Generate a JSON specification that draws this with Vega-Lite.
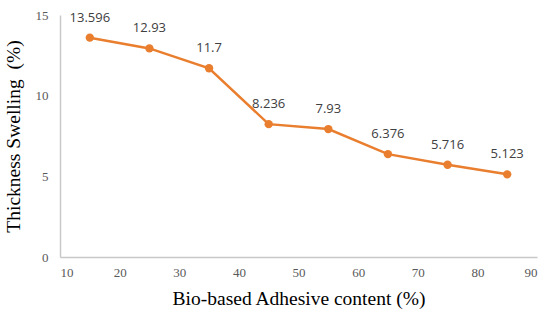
{
  "$schema": "https://vega.github.io/schema/vega-lite/v6.json",
  "autosize": "none",
  "width": 477,
  "height": 242,
  "padding": {"left": 60, "top": 15, "right": 13, "bottom": 65},
  "background": "white",
  "config": {"view": {"stroke": null}},
  "data": {"values": [
    {"content": 15, "swelling": 13.596, "label": "13.596"},
    {"content": 25, "swelling": 12.93, "label": "12.93"},
    {"content": 35, "swelling": 11.7, "label": "11.7"},
    {"content": 45, "swelling": 8.236, "label": "8.236"},
    {"content": 55, "swelling": 7.93, "label": "7.93"},
    {"content": 65, "swelling": 6.376, "label": "6.376"},
    {"content": 75, "swelling": 5.716, "label": "5.716"},
    {"content": 85, "swelling": 5.123, "label": "5.123"}
  ]},
  "encoding": {
    "x": {"field": "content", "type": "quantitative",
      "scale": {"domain": [10, 90], "nice": false},
      "axis": {"values": [10,20,30,40,50,60,70,80,90], "grid": false, "ticks": false,
        "domainColor": "#c8c8c8", "domainWidth": 1.5,
        "labelFont": "Liberation Serif", "labelFontSize": 13, "labelColor": "#595959", "labelPadding": 9,
        "title": "Bio-based Adhesive content (%)", "titleFont": "Liberation Serif", "titleFontSize": 19.5,
        "titleFontWeight": "normal", "titleColor": "#000000", "titlePadding": 10}},
    "y": {"field": "swelling", "type": "quantitative",
      "scale": {"domain": [0, 15], "nice": false},
      "axis": {"values": [0,5,10,15], "grid": false, "ticks": false,
        "domainColor": "#c8c8c8", "domainWidth": 1.5,
        "labelFont": "Liberation Serif", "labelFontSize": 13, "labelColor": "#595959", "labelPadding": 12,
        "title": "Thickness Swelling\u00a0\u00a0(%)", "titleFont": "Liberation Serif", "titleFontSize": 19.5,
        "titleFontWeight": "normal", "titleColor": "#000000", "titlePadding": 12}}
  },
  "layer": [
    {"mark": {"type": "line", "color": "#E97E2E", "strokeWidth": 2.5}},
    {"mark": {"type": "point", "filled": true, "color": "#E97E2E", "size": 70, "opacity": 1}},
    {"mark": {"type": "text", "dy": -20, "font": "Open Sans", "fontSize": 13, "color": "#404040"},
      "encoding": {"text": {"field": "label"}}}
  ]
}
